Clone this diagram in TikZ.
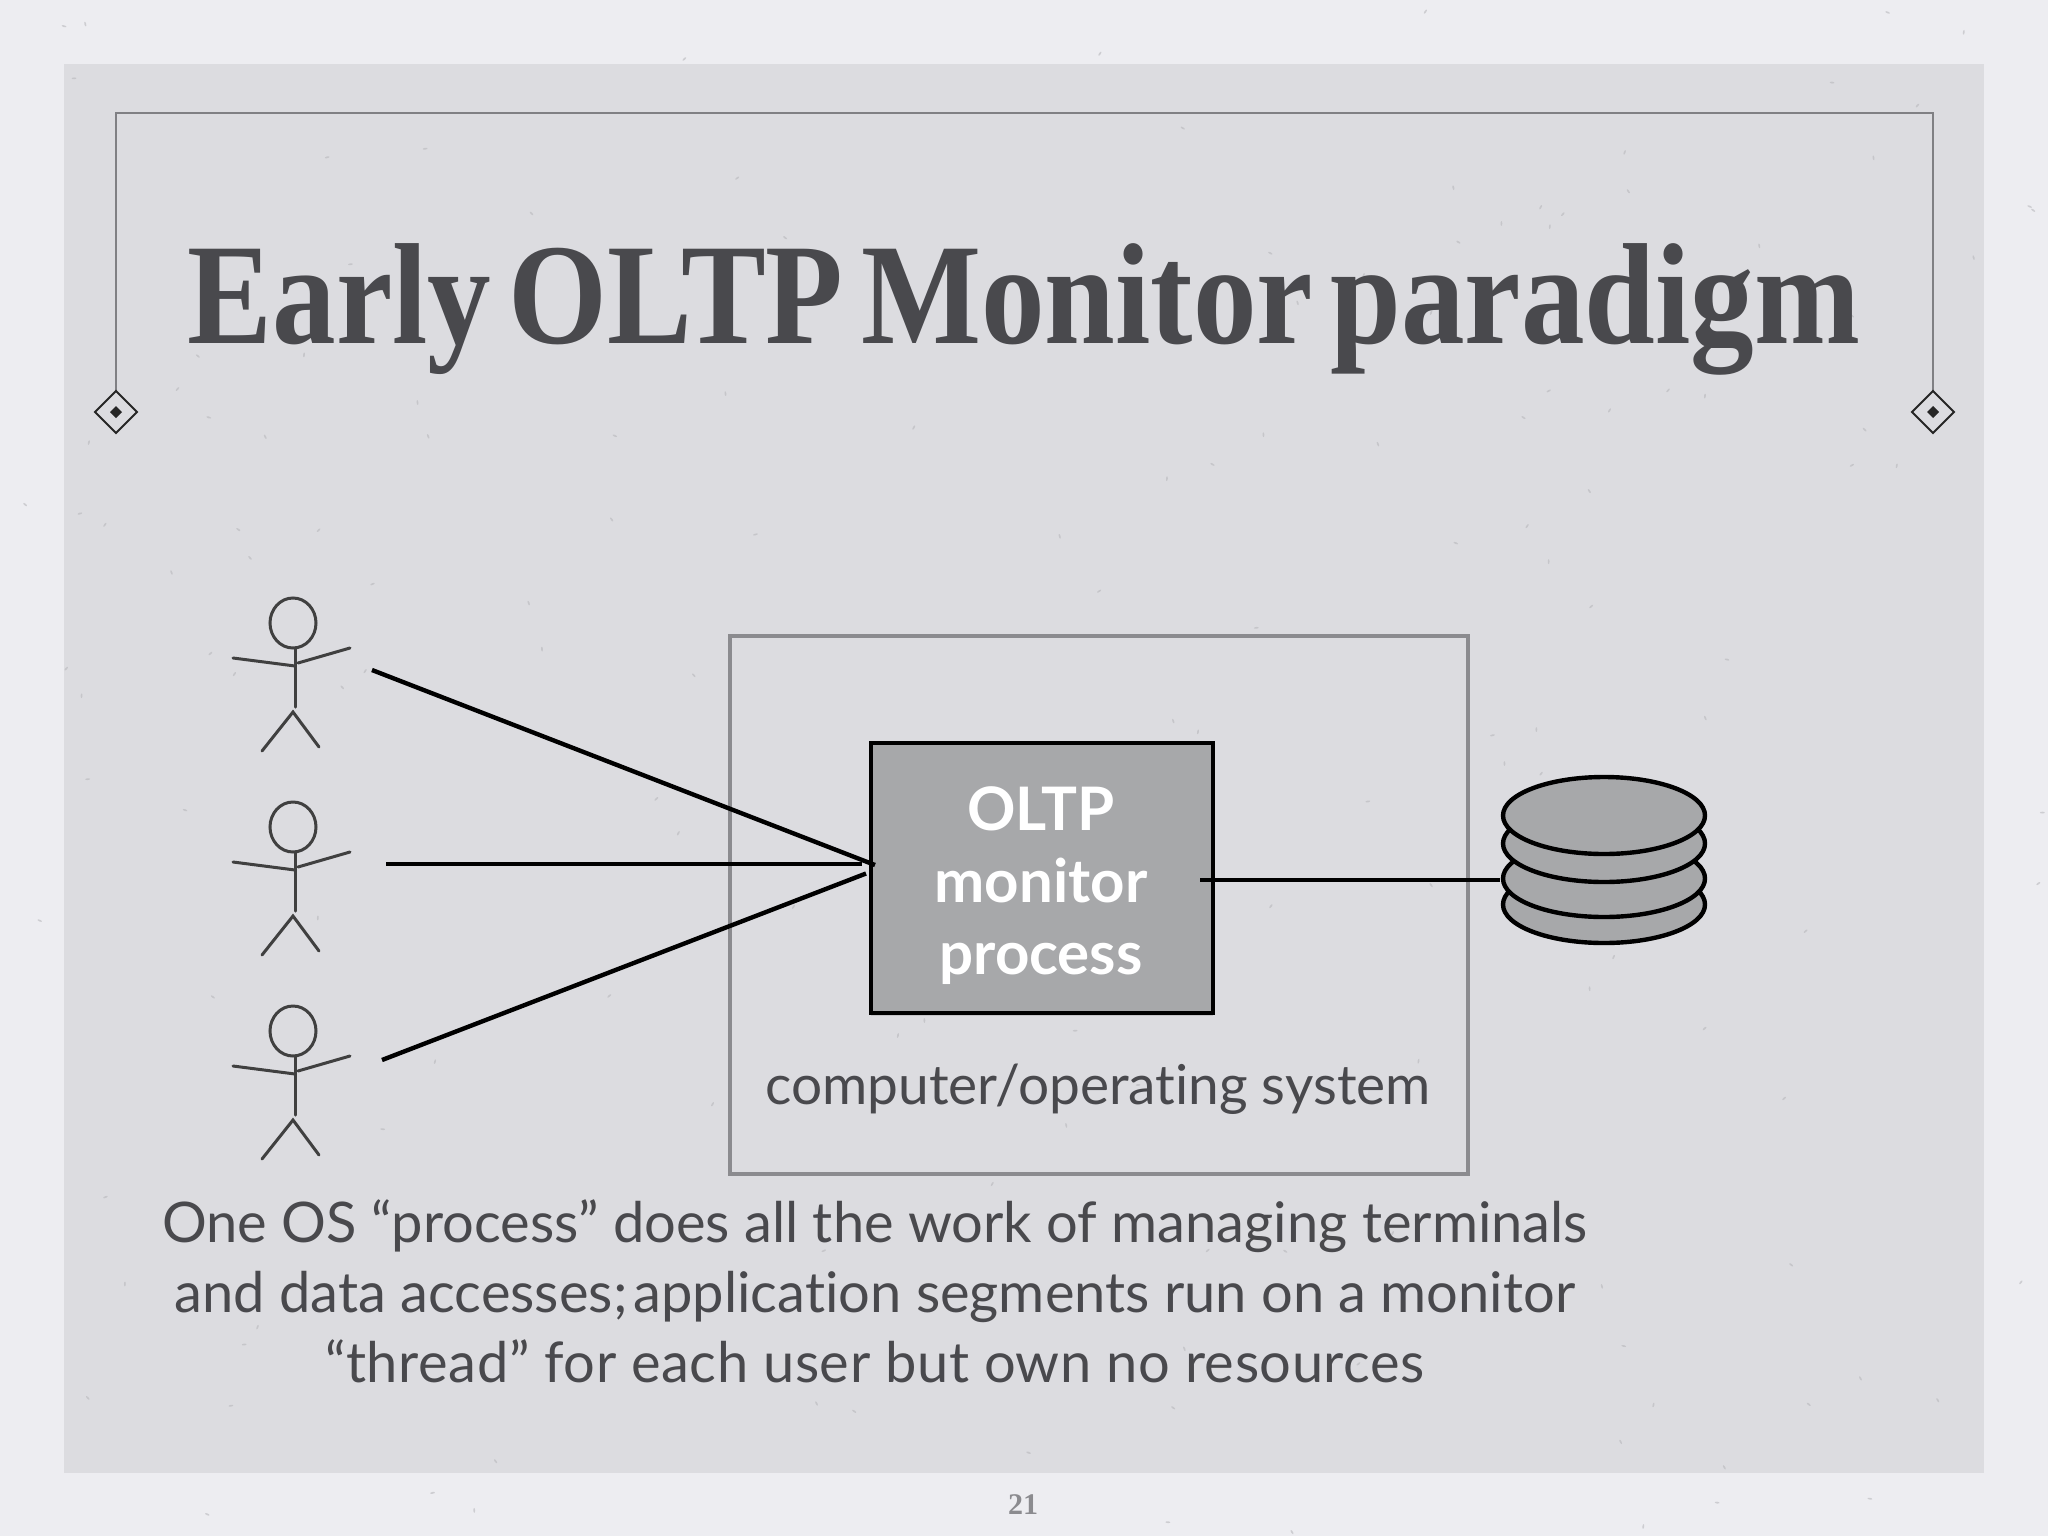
\documentclass[tikz,border=0pt]{standalone}
\usepackage{fontspec}
\usetikzlibrary{shadows}
\setmainfont{Lato}[Ligatures=NoCommon]
\newfontfamily\titlefont[WordSpace=0.55]{Liberation Serif}
\definecolor{outerbg}{HTML}{EDEDF1}
\definecolor{panelbg}{HTML}{DCDCE0}
\definecolor{inktext}{HTML}{49494D}
\definecolor{framegrey}{HTML}{808084}
\definecolor{osgrey}{HTML}{8B8B8F}
\definecolor{boxfill}{HTML}{A7A8AA}
\definecolor{speck}{HTML}{B4B4B8}
\tikzset{
  every node/.style={inner sep=0pt,outer sep=0pt},
  titletext/.style={text=inktext,font=\titlefont\bfseries\fontsize{72}{72}\selectfont,anchor=base},
  bodytext/.style={text=inktext,font=\fontsize{28}{35}\selectfont,align=center},
  boxtext/.style={text=white,font=\bfseries\fontsize{30}{36}\selectfont,align=center},
  stick/.style={draw=black!75,line width=1.5pt,line cap=round},
  wire/.style={draw=black,line width=2.2pt},
  dbdisk/.style={draw=black,fill=boxfill,line width=2.2pt},
}
\newcommand{\stickman}[2]{%
  \begin{scope}[shift={(0,#1)}]
    \coordinate (#2) at (293,627);
    \draw[stick] (293,623) ellipse [x radius=23,y radius=25];
    \draw[stick] (295,648) -- (295,707);
    \draw[stick] (233,658) -- (295,666);
    \draw[stick] (298,663) -- (350,648);
    \draw[stick] (262,751) -- (293,712) -- (319,747);
  \end{scope}}
\begin{document}
\begin{tikzpicture}[x=0.5pt,y=-0.5pt]
\useasboundingbox (0,0) rectangle (2048,1536);
\fill[outerbg] (0,0) rectangle (2048,1536);
\fill[panelbg] (64,64) rectangle (1984,1473);
% paper flecks
\pgfmathsetseed{21}
\foreach \i in {1,...,170}{
  \pgfmathsetmacro{\px}{rnd*2048}
  \pgfmathsetmacro{\py}{rnd*1536}
  \pgfmathsetmacro{\pa}{rnd*180}
  \fill[speck,opacity=.55,rotate around={\pa:(\px,\py)}] (\px,\py) ellipse [x radius=2.4,y radius=0.9];
}
% title frame
\coordinate (fa) at (116,391);
\coordinate (fb) at (116,113);
\coordinate (fc) at (1933,113);
\coordinate (fd) at (1933,391);
\draw[framegrey,line width=1pt] (fa) -- (fb) -- (fc) -- (fd);
\foreach \cx in {116,1933}{
  \draw[black!85,line width=1pt] (\cx,391) -- (\cx+21,412) -- (\cx,433) -- (\cx-21,412) -- cycle;
  \fill[black!85] (\cx,406) -- (\cx+6,412) -- (\cx,418) -- (\cx-6,412) -- cycle;
}
\node[titletext,xscale=0.883,transform shape] (title) at (1024,343) {Early OLTP Monitor paradigm};
% figures
\stickman{0}{u1}
\stickman{204}{u2}
\stickman{408}{u3}
% OS box
\node[draw=osgrey,line width=2pt,minimum width=369pt,minimum height=269pt,anchor=north west] (os) at (730,636) {};
\node[bodytext,font=\fontsize{27.5}{35}\selectfont] (oslabel) at (1098,1089) {computer/operating system};
% monitor
\node[draw=black,fill=boxfill,line width=2.4pt,minimum width=171pt,minimum height=135pt,anchor=north west,drop shadow={opacity=.25,shadow xshift=0pt,shadow yshift=-1.5pt}] (mon) at (871,743) {};
\node[boxtext] (montext) at (1041,886) {OLTP\\monitor\\process};
% database
\draw[dbdisk] (1604,904.5) ellipse [x radius=101,y radius=38.5];
\draw[dbdisk] (1604,878.5) ellipse [x radius=101,y radius=38.5];
\draw[dbdisk] (1604,843.5) ellipse [x radius=101,y radius=38.5];
\draw[dbdisk] (1604,815.5) ellipse [x radius=101,y radius=38.5];
% connectors
\coordinate (a1) at (372,670); \coordinate (b1) at (875,865);
\coordinate (a2) at (386,864); \coordinate (b2) at (862,864);
\coordinate (a3) at (382,1060); \coordinate (b3) at (866,873.5);
\coordinate (c1) at (1200,880); \coordinate (c2) at (1500,880);
\draw[wire] (a1) -- (b1);
\draw[wire] (a2) -- (b2);
\draw[wire] (a3) -- (b3);
\draw[wire] (c1) -- (c2);
% caption
\node[bodytext] (caption) at (875,1291) {One OS “process” does all the work of managing terminals\\and data accesses; \kern-.15em application segments run on a monitor\\{\addfontfeature{LetterSpace=1}“thread” for each user but own no resources}};
\node[text=osgrey,font=\titlefont\bfseries\fontsize{15}{15}\selectfont] (page) at (1023,1505) {21};
\end{tikzpicture}
\end{document}
